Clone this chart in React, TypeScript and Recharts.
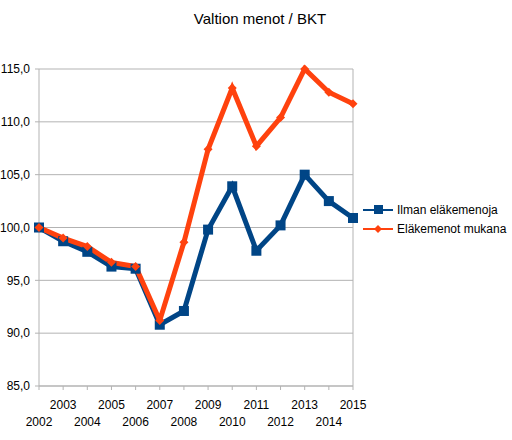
import React from 'react';
import { LineChart, Line, XAxis, YAxis, CartesianGrid, ReferenceLine } from 'recharts';

const years = ['2002','2003','2004','2005','2006','2007','2008','2009','2010','2011','2012','2013','2014','2015'];
const ilman = [100.0, 98.7, 97.7, 96.3, 96.1, 90.8, 92.1, 99.8, 103.9, 97.8, 100.2, 105.0, 102.5, 100.9];
const mukana = [100.0, 99.0, 98.2, 96.7, 96.3, 91.2, 98.6, 107.4, 113.2, 107.7, 110.4, 115.0, 112.8, 111.7];
const yTicks = [85, 90, 95, 100, 105, 110, 115];
const seriesNames = ['Ilman eläkemenoja', 'Eläkemenot mukana'];

const data = years.map((y, i) => ({ year: y, ilman: ilman[i], mukana: mukana[i] }));

const BLUE = '#004586';
const ORANGE = '#ff420e';
const FONT = '"Liberation Sans", Arial, sans-serif';

const XTick = (props: any) => {
  const { x, y, payload, index } = props;
  const upper = index % 2 === 1;
  return (
    <text x={x} y={y + (upper ? 17 : 34)} textAnchor="middle" fontSize={12} fontFamily={FONT} fill="#000">
      {payload.value}
    </text>
  );
};

const Square = (props: any) => {
  const { cx, cy } = props;
  return <rect x={cx - 5} y={cy - 5} width={10} height={10} fill={BLUE} />;
};

const Diamond = (props: any) => {
  const { cx, cy } = props;
  return <polygon points={`${cx},${cy - 4.5} ${cx + 4.5},${cy} ${cx},${cy + 4.5} ${cx - 4.5},${cy}`} fill={ORANGE} />;
};

const LegendBox = () => (
  <svg width={150} height={40} style={{ position: 'absolute', left: 363, top: 202, overflow: 'visible' }}>
    <line x1={0} y1={8} x2={30} y2={8} stroke={BLUE} strokeWidth={2} />
    <rect x={11} y={3} width={9} height={9} fill={BLUE} />
    <text x={34} y={12} fontSize={12} fontFamily={FONT} fill="#000">{seriesNames[0]}</text>
    <line x1={0} y1={27} x2={30} y2={27} stroke={ORANGE} strokeWidth={2} />
    <polygon points="15,23 19,27 15,31 11,27" fill={ORANGE} />
    <text x={34} y={31} fontSize={12} fontFamily={FONT} fill="#000">{seriesNames[1]}</text>
  </svg>
);

export default function App() {
  return (
    <div style={{ position: 'absolute', left: 0, top: 0, width: 512, height: 440, background: '#fff' }}>
      <div style={{ position: 'absolute', left: 0, top: 10, width: 520, textAlign: 'center', fontFamily: FONT, fontSize: 15, color: '#000' }}>
        Valtion menot / BKT
      </div>
      <div style={{ position: 'absolute', left: 0, top: 0 }}>
        <LineChart width={512} height={440} data={data} margin={{ top: 69, right: 159, bottom: 0, left: 0 }}>
          <CartesianGrid vertical={false} stroke="#b3b3b3" strokeWidth={1} />
          <XAxis
            dataKey="year"
            tick={<XTick />}
            interval={0}
            tickSize={4}
            height={54}
            stroke="#b3b3b3"
            tickLine={{ stroke: '#b3b3b3' }}
            axisLine={{ stroke: '#b3b3b3' }}
          />
          <YAxis
            domain={[85, 115]}
            ticks={yTicks}
            width={39}
            tickSize={4}
            tickMargin={5}
            interval={0}
            tickFormatter={(v: number) => v.toFixed(1).replace('.', ',')}
            tick={{ fontSize: 12, fontFamily: FONT, fill: '#000' }}
            stroke="#b3b3b3"
            axisLine={{ stroke: '#b3b3b3' }}
            tickLine={{ stroke: '#b3b3b3' }}
          />
          <ReferenceLine x="2015" stroke="#b3b3b3" />
          <Line dataKey="ilman" name={seriesNames[0]} stroke={BLUE} strokeWidth={5} dot={<Square />} isAnimationActive={false} />
          <Line dataKey="mukana" name={seriesNames[1]} stroke={ORANGE} strokeWidth={5} dot={<Diamond />} isAnimationActive={false} />
        </LineChart>
      </div>
      <LegendBox />
    </div>
  );
}
